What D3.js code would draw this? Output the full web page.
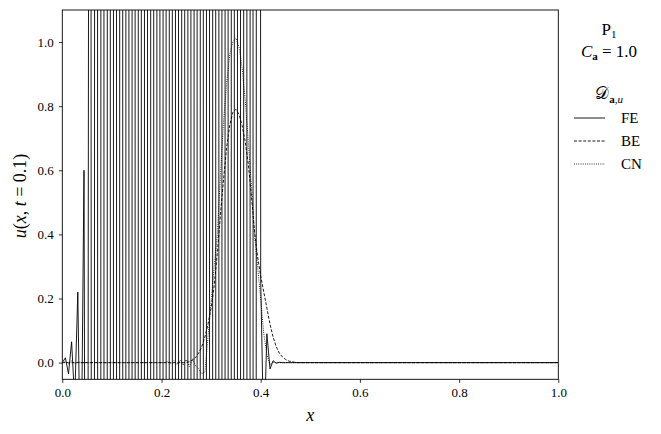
<!DOCTYPE html>
<html>
<head>
<meta charset="utf-8">
<script src="https://cdn.jsdelivr.net/npm/d3@7"></script>
<style>
  body { margin: 0; background: #fff; }
</style>
</head>
<body>
<div id="chart"></div>
<script>

var svgWidth = 661;
var svgHeight = 434;

var margin = { top: 10, right: 102.7, bottom: 54.7, left: 62.3 };

var width = svgWidth - margin.left - margin.right;
var height = svgHeight - margin.top - margin.bottom;

var serif = '"Liberation Serif", "DejaVu Serif", "Times New Roman", serif';

// mesh nodes (x) shared by the three schemes, last node closes the domain
var nodes = [0, 0.00625, 0.0125, 0.01875, 0.025, 0.03125, 0.0375, 0.04375, 0.05, 0.05625,
  0.0625, 0.06875, 0.075, 0.08125, 0.0875, 0.09375, 0.1, 0.10625, 0.1125, 0.11875,
  0.125, 0.13125, 0.1375, 0.14375, 0.15, 0.15625, 0.1625, 0.16875, 0.175, 0.18125,
  0.1875, 0.19375, 0.2, 0.20625, 0.2125, 0.21875, 0.225, 0.23125, 0.2375, 0.24375,
  0.25, 0.25625, 0.2625, 0.26875, 0.275, 0.28125, 0.2875, 0.29375, 0.3, 0.30625,
  0.3125, 0.31875, 0.325, 0.33125, 0.3375, 0.34375, 0.35, 0.35625, 0.3625, 0.36875,
  0.375, 0.38125, 0.3875, 0.39375, 0.4, 0.40625, 0.4125, 0.41875, 0.425, 0.43125,
  0.4375, 0.44375, 0.45, 0.45625, 0.4625, 0.46875, 0.475, 0.48125, 0.4875, 0.49375,
  0.5, 1.0];

// forward Euler: blows up, alternating values far outside the axes
var uFE = [0, 0.015, -0.035, 0.065, -0.12, 0.22, -0.45, 0.6, -3, 6,
  -12, 20, -30, 40, -50, 50, -50, 50, -50, 50,
  -50, 50, -50, 50, -50, 50, -50, 50, -50, 50,
  -50, 50, -50, 50, -50, 50, -50, 50, -50, 50,
  -50, 50, -50, 50, -50, 50, -50, 50, -50, 50,
  -50, 50, -50, 50, -50, 50, -50, 50, -50, 50,
  -40, 30, -25, 20, 0.26, -0.25, 0.09, -0.02, 0.006, -0.002,
  0.001, 0, 0, 0, 0, 0, 0, 0, 0, 0,
  0, 0];

// backward Euler
var uBE = [0, 0, 0, 0, 0, 0, 0, 0, 0, 0,
  0, 0, 0, 0, 0, 0, 0, 0, 0, 0,
  0, 0, 0, 0, 0, 0, 0, 0, 0, 0,
  0, 0, 0, 0, 0, 0, 0, 0, 0, 0,
  0.001, 0.003, 0.008, 0.016, 0.03, 0.05, 0.08, 0.12, 0.17, 0.24,
  0.34, 0.46, 0.57, 0.67, 0.74, 0.78, 0.79, 0.775, 0.74, 0.69,
  0.62, 0.52, 0.41, 0.33, 0.27, 0.22, 0.17, 0.12, 0.08, 0.05,
  0.03, 0.018, 0.01, 0.005, 0.003, 0.001, 0, 0, 0, 0,
  0, 0];

// Crank-Nicolson
var uCN = [0, 0.003, -0.004, 0.005, -0.003, 0.002, 0, 0, 0, 0,
  0, 0, 0, 0, 0, 0, 0, 0, 0, 0,
  0, 0, 0, 0, 0, 0, 0, 0, 0, 0,
  0, 0, 0, 0, 0.003, -0.004, 0.006, -0.006, 0.008, -0.008,
  0.01, -0.012, 0.012, -0.01, -0.02, -0.035, -0.03, 0.08, 0.19, 0.3,
  0.4, 0.58, 0.75, 0.87, 0.96, 1.0, 1.012, 0.985, 0.92, 0.82,
  0.69, 0.55, 0.4, 0.3, 0.2, 0.09, 0.025, -0.006, 0.002, 0,
  0, 0, 0, 0, 0, 0, 0, 0, 0, 0,
  0, 0];

var schemes = ['FE', 'BE', 'CN'];
var dashes = [null, '3,1.6', '0.9,1.3'];
var xTicks = [0, 0.2, 0.4, 0.6, 0.8, 1.0];
var yTicks = [0, 0.2, 0.4, 0.6, 0.8, 1.0];

var svg = d3.select('#chart').append('svg')
  .attr('width', svgWidth)
  .attr('height', svgHeight);

var chartGroup = svg.append('g')
  .attr('transform', `translate(${margin.left}, ${margin.top})`);

var xScale = d3.scaleLinear().domain([0, 1]).range([0, width]);
var yScale = d3.scaleLinear().domain([-0.052, 1.1]).range([height, 0]);

chartGroup.append('clipPath').attr('id', 'clip')
  .append('rect').attr('width', width).attr('height', height);

var line = d3.line()
  .x(d => xScale(d[0]))
  .y(d => yScale(d[1]));

var series = [uFE, uBE, uCN];
var lineGroup = chartGroup.append('g').attr('clip-path', 'url(#clip)');

series.forEach(function(vals, i) {
  lineGroup.append('path')
    .datum(nodes.map((x, j) => [x, vals[j]]))
    .attr('d', line)
    .attr('fill', 'none')
    .attr('stroke', '#000')
    .attr('stroke-width', 0.9)
    .attr('stroke-dasharray', dashes[i]);
});

// axes
var xAxis = chartGroup.append('g')
  .attr('transform', `translate(0, ${height})`)
  .call(d3.axisBottom(xScale).tickValues(xTicks).tickFormat(d3.format('.1f'))
    .tickSize(3.5).tickPadding(5));

var yAxis = chartGroup.append('g')
  .call(d3.axisLeft(yScale).tickValues(yTicks).tickFormat(d3.format('.1f'))
    .tickSize(3.5).tickPadding(5));

[xAxis, yAxis].forEach(function(ax) {
  ax.attr('font-family', serif).attr('font-size', 13);
  ax.select('.domain').remove();
  ax.selectAll('.tick line').attr('stroke', '#000').attr('stroke-width', 0.8);
  ax.selectAll('.tick text').attr('fill', '#000');
});

// frame
chartGroup.append('rect')
  .attr('width', width)
  .attr('height', height)
  .attr('fill', 'none')
  .attr('stroke', '#000')
  .attr('stroke-width', 0.9);

// axis labels
svg.append('text')
  .attr('x', margin.left + width / 2)
  .attr('y', 421)
  .attr('text-anchor', 'middle')
  .attr('font-family', serif)
  .attr('font-size', 18)
  .attr('font-style', 'italic')
  .text('x');

var yl = svg.append('text')
  .attr('transform', 'translate(26, 196) rotate(-90)')
  .attr('text-anchor', 'middle')
  .attr('font-family', serif)
  .attr('font-size', 18);
yl.append('tspan').attr('font-style', 'italic').text('u');
yl.append('tspan').text('(');
yl.append('tspan').attr('font-style', 'italic').text('x');
yl.append('tspan').text(', ');
yl.append('tspan').attr('font-style', 'italic').text('t');
yl.append('tspan').text(' = 0.1)');

// legend block at the right
var lx = 609;
var t1 = svg.append('text').attr('x', lx).attr('y', 35)
  .attr('text-anchor', 'middle').attr('font-family', serif).attr('font-size', 17);
t1.append('tspan').text('P');
t1.append('tspan').attr('dy', 3).attr('font-size', 11).text('1');

var t2 = svg.append('text').attr('x', lx).attr('y', 57)
  .attr('text-anchor', 'middle').attr('font-family', serif).attr('font-size', 17);
t2.append('tspan').attr('font-style', 'italic').text('C');
t2.append('tspan').attr('dy', 3).attr('font-size', 11).attr('font-weight', 'bold').text('a');
t2.append('tspan').attr('dy', -3).text(' = 1.0');

var t3 = svg.append('text').attr('x', lx).attr('y', 99)
  .attr('text-anchor', 'middle').attr('font-family', serif).attr('font-size', 17);
t3.append('tspan').attr('font-family', 'DejaVu Sans').text('\u{1D49F}');
t3.append('tspan').attr('dy', 4).attr('font-size', 11).attr('font-weight', 'bold').text('a');
t3.append('tspan').attr('font-size', 11).text(',');
t3.append('tspan').attr('font-size', 11).attr('font-style', 'italic').text('u');

var legendY = [118, 141, 164];
schemes.forEach(function(name, i) {
  svg.append('line')
    .attr('x1', 574).attr('x2', 605)
    .attr('y1', legendY[i]).attr('y2', legendY[i])
    .attr('stroke', '#000')
    .attr('stroke-width', 0.9)
    .attr('stroke-dasharray', dashes[i]);
  svg.append('text')
    .attr('x', 621).attr('y', legendY[i] + 5)
    .attr('font-family', serif)
    .attr('font-size', 15)
    .text(name);
});

</script>
</body>
</html>
